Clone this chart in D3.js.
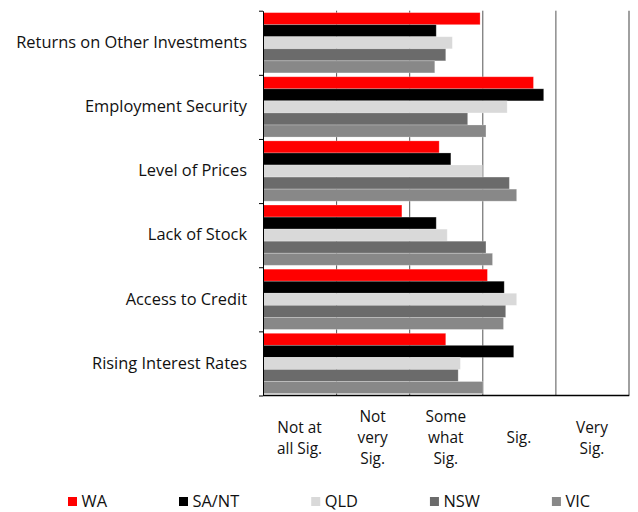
<!DOCTYPE html>
<html>
<head>
<meta charset="utf-8">
<script src="https://cdn.jsdelivr.net/npm/d3@7"></script>
<style>
  body { margin: 0; background: #fff; }
  svg text { font-family: "Open Sans", "Noto Sans", sans-serif; fill: #111; }
</style>
</head>
<body>
<div id="chart"></div>
<script>
// datos
const categories = ["Returns on Other Investments", "Employment Security", "Level of Prices",
                    "Lack of Stock", "Access to Credit", "Rising Interest Rates"]
const series = ["WA", "SA/NT", "QLD", "NSW", "VIC"]
const colors = ["#ff0000", "#000000", "#d9d9d9", "#6b6b6b", "#888888"]

const waValues   = [2.97, 3.70, 2.41, 1.90, 3.07, 2.50]
const santValues = [2.37, 3.84, 2.57, 2.37, 3.30, 3.43]
const qldValues  = [2.59, 3.34, 3.00, 2.52, 3.47, 2.70]
const nswValues  = [2.50, 2.80, 3.37, 3.05, 3.32, 2.67]
const vicValues  = [2.35, 3.05, 3.47, 3.14, 3.29, 3.01]
const seriesValues = [waValues, santValues, qldValues, nswValues, vicValues]

const scaleLabels = [["Not at", "all Sig."], ["Not", "very", "Sig."], ["Some", "what", "Sig."], ["Sig."], ["Very", "Sig."]]

const width = 638
const height = 512
const plot = { left: 263, right: 628.5, top: 10.7, bottom: 395.5 }
const fontSize = "16.4px"

const svg = d3.select("div#chart").append("svg").attr("width", width).attr("height", height)

// escalas
const x = d3.scaleLinear().domain([0, 5]).range([plot.left, plot.right])
const y0 = d3.scaleBand().domain(categories).range([plot.top, plot.bottom]).paddingInner(0.06).paddingOuter(0.03)
const y1 = d3.scaleBand().domain(series).range([0, y0.bandwidth()])
const yEdges = d3.scaleLinear().domain([0, categories.length]).range([plot.top, plot.bottom])

// rejilla vertical
const grid = svg.append("g").attr("transform", `translate(0, ${plot.bottom})`)
  .call(d3.axisBottom(x).tickValues([1, 2, 3, 4, 5]).tickSize(-(plot.bottom - plot.top)).tickFormat(""))
grid.select(".domain").remove()
grid.selectAll(".tick line").attr("stroke", "#555").attr("stroke-width", 1)
grid.selectAll(".tick").filter(d => d === 5).select("line").attr("stroke", "#808080").attr("stroke-width", 1.5)

// barras
const rows = categories.map((c, i) => ({ cat: c, vals: series.map((s, j) => ({ s, v: seriesValues[j][i], color: colors[j] })) }))

svg.append("g").selectAll("g").data(rows).join("g")
  .attr("transform", d => `translate(0, ${y0(d.cat)})`)
  .selectAll("rect").data(d => d.vals).join("rect")
  .attr("x", x(0))
  .attr("y", d => y1(d.s))
  .attr("width", d => x(d.v) - x(0))
  .attr("height", y1.bandwidth())
  .attr("fill", d => d.color)
  .attr("stroke", "#fff").attr("stroke-opacity", 0.3).attr("stroke-width", 0.8)

// eje inferior
svg.append("line")
  .attr("x1", plot.left).attr("x2", plot.right + 0.75)
  .attr("y1", plot.bottom).attr("y2", plot.bottom)
  .attr("stroke", "#000").attr("stroke-width", 1.5)

// eje izquierdo con marcas entre categorias
const leftAxis = svg.append("g").attr("transform", `translate(${plot.left}, 0)`)
  .call(d3.axisLeft(yEdges).ticks(categories.length).tickSize(4).tickSizeOuter(0).tickFormat(""))
leftAxis.selectAll("path, line").attr("stroke", "#000")

// etiquetas de categorias
const catAxis = svg.append("g").attr("transform", `translate(${plot.left}, 0)`)
  .call(d3.axisLeft(y0).tickSize(0).tickPadding(16))
catAxis.select(".domain").remove()
catAxis.selectAll("text").style("font-size", fontSize).attr("fill", "#111")

// etiquetas de la escala (una linea = un texto)
const scaleGroup = svg.append("g")
scaleLabels.forEach((lines, i) => {
  lines.forEach((l, k) => {
    scaleGroup.append("text")
      .attr("text-anchor", "middle")
      .style("font-size", "15.4px")
      .attr("x", x(i + 0.5))
      .attr("y", 438 + (k - (lines.length - 1) / 2) * 21 + 5)
      .text(l)
  })
})

// leyenda
const legend = svg.append("g")
let lx = 68
series.forEach((s, j) => {
  legend.append("rect").attr("x", lx).attr("y", 497).attr("width", 9).attr("height", 9).attr("fill", colors[j])
  const t = legend.append("text").attr("x", lx + 13.5).attr("y", 507).style("font-size", fontSize).text(s)
  lx = lx + 13.5 + t.node().getComputedTextLength() + 72
})
</script>
</body>
</html>
